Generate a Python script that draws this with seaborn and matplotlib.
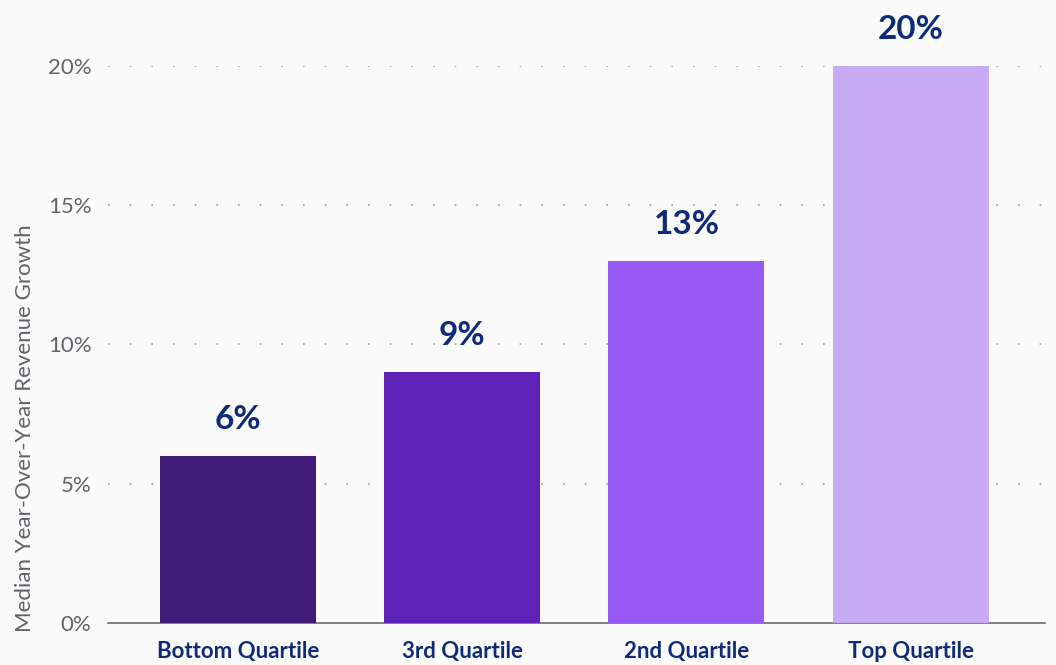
import matplotlib
matplotlib.use("Agg")
import matplotlib.pyplot as plt
import seaborn as sns
import pandas as pd

categories = ["Bottom Quartile", "3rd Quartile", "2nd Quartile", "Top Quartile"]
values = [6, 9, 13, 20]
bar_labels = ["6%", "9%", "13%", "20%"]
y_ticks = [0, 5, 10, 15, 20]
y_ticklabels = ["0%", "5%", "10%", "15%", "20%"]
colors = ["#421a78", "#5f22b8", "#9759f2", "#c6aaf3"]

sns.set_theme(style="white")
plt.rcParams["font.family"] = ["Lato", "DejaVu Sans"]

bg = "#fafafa"
fig = plt.figure(figsize=(10.56, 6.65), dpi=100, facecolor=bg)
ax = fig.add_axes([0.1023, 0.0632, 0.8873, 0.8376], facecolor=bg)

df = pd.DataFrame({"cat": categories, "val": values})
sns.barplot(data=df, x="cat", y="val", hue="cat", palette=colors, legend=False,
            width=0.696, saturation=1, linewidth=0, ax=ax, zorder=3)

ax.set_xlim(-0.58, 3.6)
ax.set_ylim(0, 20)
ax.set_yticks(y_ticks)
ax.set_yticklabels(y_ticklabels)
ax.tick_params(axis="y", length=0, pad=12, labelsize=16, labelcolor="#5f6368")
ax.tick_params(axis="x", length=0, pad=13, labelsize=16, labelcolor="#0e2a78")
for t in ax.get_xticklabels():
    t.set_fontweight("bold")

for y in y_ticks[1:]:
    ax.axhline(y, color="#9a9a9a", linewidth=1.2, linestyle=(0, (1, 12)), zorder=1)

for i, (v, lab) in enumerate(zip(values, bar_labels)):
    ax.text(i, v + 0.8, lab, ha="center", va="bottom", fontsize=24,
            fontweight="bold", color="#0e2a78", clip_on=False)

for s in ["top", "right", "left"]:
    ax.spines[s].set_visible(False)
ax.spines["bottom"].set_color("#6b6b6b")
ax.spines["bottom"].set_linewidth(1.2)

ax.set_xlabel("")
ax.set_ylabel("Median Year-Over-Year Revenue Growth", fontsize=16, color="#5f6368")
ax.yaxis.set_label_coords(-0.078, 0.35)

fig.savefig("out.png", dpi=100, facecolor=bg)
